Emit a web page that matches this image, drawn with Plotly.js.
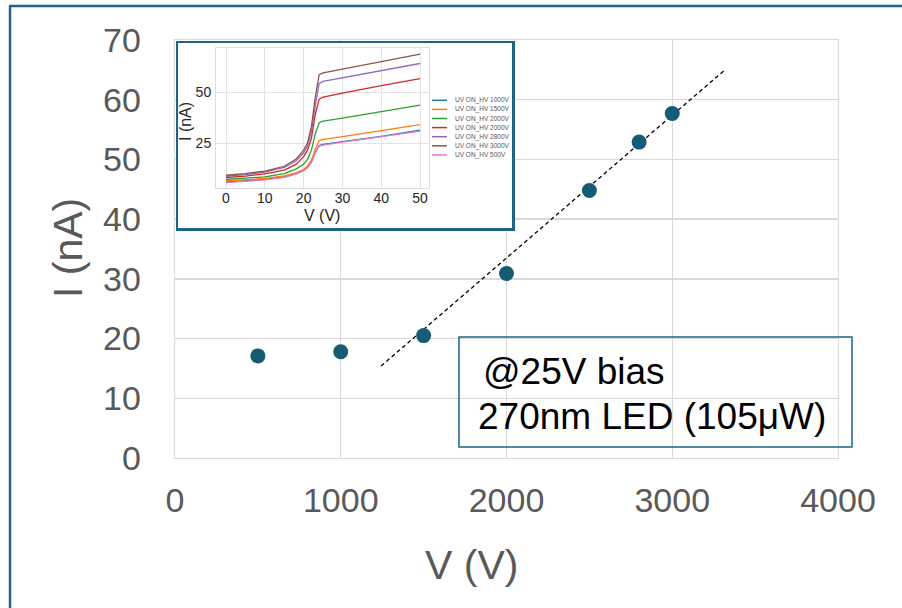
<!DOCTYPE html>
<html>
<head>
<meta charset="utf-8">
<script src="https://cdn.plot.ly/plotly-3.0.1.min.js"></script>
<style>html,body{margin:0;padding:0;background:#fff;}#chart{width:902px;height:608px;}</style>
</head>
<body>
<div id="chart"></div>
<script>
// ---- Main chart data ----
var hvVoltage = [500, 1000, 1500, 2000, 2500, 2800, 3000];
var currentAt25V = [17.1, 17.8, 20.5, 30.9, 44.8, 52.9, 57.7];
var fitX = [1243, 3318];
var fitY = [15.4, 65.0];
var mainXTicks = [0, 1000, 2000, 3000, 4000];
var mainYTicks = [0, 10, 20, 30, 40, 50, 60, 70];

// ---- Inset data ----
var biasV = [0, 5, 10, 15, 18, 20, 21, 22, 23, 24, 25, 30, 40, 50];
var i1000 = [5.9, 6.5, 7.2, 8.4, 10.0, 11.7, 13.2, 15.8, 20.5, 23.8, 24.3, 25.7, 28.3, 31.3];
var i1500 = [6.4, 7.0, 7.6, 8.9, 10.4, 12.0, 13.8, 16.6, 22.0, 26.2, 26.8, 28.1, 31.1, 34.0];
var i2000a = [7.1, 7.7, 8.4, 10.0, 12.2, 14.6, 17.0, 21.5, 29.5, 35.0, 35.7, 37.2, 40.5, 43.6];
var i2000b = [8.1, 8.8, 9.9, 11.7, 14.5, 18.3, 21.5, 27.3, 39.0, 46.5, 47.5, 49.5, 53.1, 56.6];
var i2800 = [8.7, 9.5, 10.7, 13.0, 16.2, 20.2, 23.5, 30.6, 43.5, 54.2, 55.2, 57.0, 60.6, 64.0];
var i3000 = [9.2, 10.0, 11.2, 13.6, 17.0, 21.5, 25.0, 33.0, 47.5, 58.5, 59.4, 61.2, 64.9, 68.6];
var i500 = [5.6, 6.2, 6.9, 8.1, 9.7, 11.4, 12.9, 15.5, 20.2, 23.5, 24.0, 25.4, 28.0, 30.8];
var insetSeries = [i1000, i1500, i2000a, i2000b, i2800, i3000, i500];
var insetNames = ['UV ON_HV 1000V', 'UV ON_HV 1500V', 'UV ON_HV 2000V', 'UV ON_HV 2000V',
                  'UV ON_HV 2800V', 'UV ON_HV 3000V', 'UV ON_HV 500V'];
var insetColors = ['#1f77b4', '#ff7f0e', '#2ca02c', '#d62728', '#9467bd', '#8c564b', '#e377c2'];
var insetXTicks = [0, 10, 20, 30, 40, 50];
var insetYTicks = [25, 50];

var W = 902, H = 608;
function px(x) { return x / W; }
function py(y) { return 1 - y / H; }

var FONT = 'Liberation Sans, Arial, sans-serif';
var teal = '#1f6484';

var traces = [];
traces.push({x: fitX, y: fitY, mode: 'lines', xaxis: 'x', yaxis: 'y',
  line: {color: '#000', width: 1.3, dash: '4px,3px'}, showlegend: false, hoverinfo: 'skip'});
traces.push({x: hvVoltage, y: currentAt25V, mode: 'markers', xaxis: 'x', yaxis: 'y',
  marker: {color: '#145b74', size: 15}, showlegend: false});
// box subplot (blank, white background)
traces.push({x: [], y: [], xaxis: 'x2', yaxis: 'y2', mode: 'markers', showlegend: false});
for (var k = 0; k < insetSeries.length; k++) {
  traces.push({x: biasV, y: insetSeries[k], mode: 'lines', xaxis: 'x3', yaxis: 'y3',
    name: insetNames[k], line: {color: insetColors[k], width: 1.3}, showlegend: false});
}

var shapes = [
  // outer frame
  {type: 'line', xref: 'paper', yref: 'paper', x0: px(10), x1: px(10), y0: 0, y1: py(6), line: {color: teal, width: 2.5}},
  {type: 'line', xref: 'paper', yref: 'paper', x0: px(9), x1: 1, y0: py(6), y1: py(6), line: {color: teal, width: 2.5}},
  // text box
  {type: 'rect', xref: 'paper', yref: 'paper', x0: px(459), x1: px(852), y0: py(447), y1: py(337),
   line: {color: teal, width: 1.5}, fillcolor: 'rgba(0,0,0,0)', layer: 'above'}
];

function ann(x, y, text, size, color, opts) {
  var a = {xref: 'paper', yref: 'paper', x: px(x), y: py(y), text: text, showarrow: false,
    xanchor: 'center', yanchor: 'middle', font: {family: FONT, size: size, color: color}};
  for (var key in (opts || {})) a[key] = opts[key];
  return a;
}

var annotations = [
  ann(68, 248, 'I (nA)', 41, '#595959', {textangle: -90}),
  ann(471, 565, 'V (V)', 41, '#595959'),
  ann(481, 371, '@25V bias', 37, '#000', {xanchor: 'left'}),
  ann(476, 416, '270nm LED (105μW)', 37, '#000', {xanchor: 'left'}),
  ann(322, 215, 'V (V)', 16, '#262626'),
  ann(185, 122, 'I (nA)', 16, '#262626', {textangle: -90})
];

// manual inset legend
for (var j = 0; j < insetNames.length; j++) {
  var yy = 100.3 + j * 9.1;
  shapes.push({type: 'line', xref: 'paper', yref: 'paper', x0: px(432), x1: px(447), y0: py(yy), y1: py(yy),
    line: {color: insetColors[j], width: 1.5}, layer: 'above'});
  annotations.push(ann(453, yy, insetNames[j], 6.5, '#555', {xanchor: 'left'}));
}

var layout = {
  width: W, height: H,
  margin: {l: 0, r: 0, t: 0, b: 0},
  paper_bgcolor: '#fff', plot_bgcolor: '#fff',
  showlegend: false,
  xaxis: {domain: [px(175), px(838)], range: [0, 4000], tickvals: mainXTicks, anchor: 'y',
    showgrid: true, gridcolor: '#d9d9d9', gridwidth: 1.3, zeroline: false,
    showline: true, mirror: true, linecolor: '#d9d9d9', linewidth: 1.3,
    ticks: '', ticklabelstandoff: 12, tickfont: {family: FONT, size: 34, color: '#595959'}},
  yaxis: {domain: [py(458), py(40)], range: [0, 70], tickvals: mainYTicks, anchor: 'x',
    showgrid: true, gridcolor: '#d9d9d9', gridwidth: 1.3, zeroline: false,
    showline: true, mirror: true, linecolor: '#d9d9d9', linewidth: 1.3,
    ticks: '', ticklabelstandoff: 26, tickfont: {family: FONT, size: 34, color: '#595959'}},
  xaxis2: {domain: [px(178), px(512)], range: [0, 1], anchor: 'y2', showgrid: false, zeroline: false,
    showticklabels: false, ticks: '', showline: true, mirror: true, linecolor: teal, linewidth: 2.5},
  yaxis2: {domain: [py(228), py(43)], range: [0, 1], anchor: 'x2', showgrid: false, zeroline: false,
    showticklabels: false, ticks: '', showline: true, mirror: true, linecolor: teal, linewidth: 2.5},
  xaxis3: {domain: [px(216), px(429)], range: [-2.58, 52.3], tickvals: insetXTicks, anchor: 'y3',
    showgrid: true, gridcolor: '#e3e3e3', gridwidth: 1, zeroline: false,
    showline: true, mirror: true, linecolor: '#dcdcdc', linewidth: 1,
    ticks: '', ticklabelstandoff: -3, tickfont: {family: FONT, size: 14, color: '#262626'}},
  yaxis3: {domain: [py(188), py(48)], range: [2.94, 71.6], tickvals: insetYTicks, anchor: 'x3',
    showgrid: true, gridcolor: '#e3e3e3', gridwidth: 1, zeroline: false,
    showline: true, mirror: true, linecolor: '#dcdcdc', linewidth: 1,
    ticks: '', ticklabelstandoff: 1, tickfont: {family: FONT, size: 14, color: '#262626'}},
  shapes: shapes,
  annotations: annotations
};

Plotly.newPlot('chart', traces, layout, {staticPlot: true, displayModeBar: false});
</script>
</body>
</html>
